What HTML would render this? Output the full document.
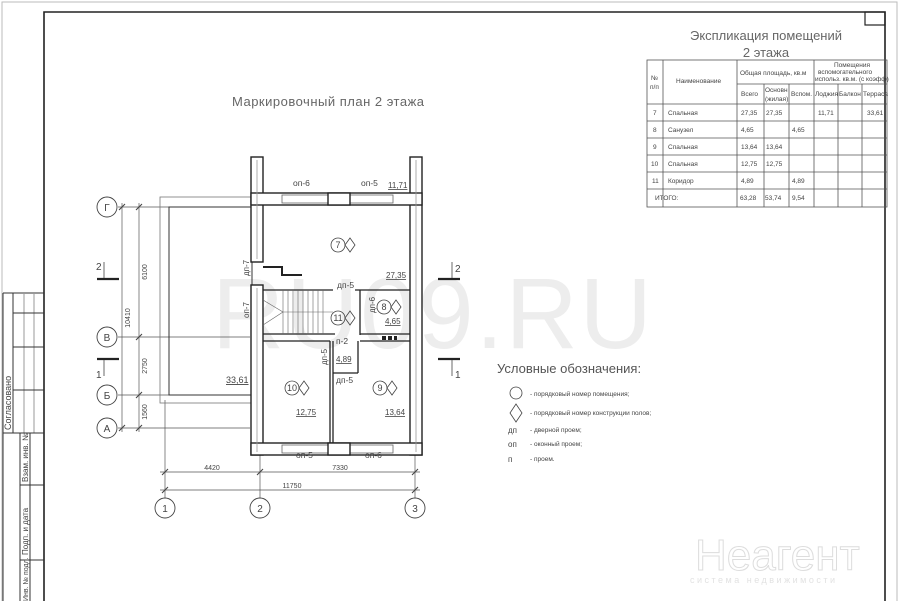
<!DOCTYPE html>
<html><head><meta charset="utf-8"><style>
html,body{margin:0;padding:0;background:#fff;}
svg{display:block;}
text{font-family:"Liberation Sans","DejaVu Sans",sans-serif;fill:#444;}
</style></head><body>
<svg width="900" height="601" viewBox="0 0 900 601" xmlns="http://www.w3.org/2000/svg">
<!-- frames -->
<rect x="2" y="2" width="895" height="610" fill="none" stroke="#bbb" stroke-width="1"/>
<path d="M44 601 V12 H885 V601" fill="none" stroke="#222" stroke-width="1.6"/>
<rect x="865" y="12" width="20" height="13" fill="none" stroke="#222" stroke-width="1.2"/>

<!-- left title block -->
<g stroke="#333" stroke-width="1" fill="none">
<line x1="3" y1="293" x2="44" y2="293"/>
<line x1="3" y1="293" x2="3" y2="601"/>
<line x1="13" y1="293" x2="13" y2="433"/>
<line x1="24" y1="293" x2="24" y2="433" stroke="#999"/>
<line x1="34" y1="293" x2="34" y2="433" stroke="#999"/>
<line x1="13" y1="313" x2="44" y2="313"/>
<line x1="13" y1="347" x2="44" y2="347"/>
<line x1="13" y1="390" x2="44" y2="390"/>
<line x1="3" y1="433" x2="44" y2="433"/>
<line x1="20" y1="433" x2="20" y2="601"/>
<line x1="30" y1="433" x2="30" y2="601"/>
<line x1="20" y1="485" x2="44" y2="485"/>
<line x1="20" y1="560" x2="44" y2="560"/>
</g>
<text transform="translate(11,430) rotate(-90)" font-size="9">Согласовано</text>
<text transform="translate(28,482) rotate(-90)" font-size="8">Взам. инв. №</text>
<text transform="translate(28,555) rotate(-90)" font-size="8">Подп. и дата</text>
<text transform="translate(28,601) rotate(-90)" font-size="7">Инв. № подл.</text>

<!-- watermark -->
<text x="212" y="348" font-size="100" fill="#ececec" style="fill:#ededed" letter-spacing="2">RU09.RU</text>

<!-- title -->
<text x="232" y="106" font-size="13" fill="#666" style="fill:#666" letter-spacing="0.5">Маркировочный план 2 этажа</text>

<!-- axes -->
<g stroke="#555" stroke-width="0.7" fill="none">
<line x1="118" y1="207" x2="250" y2="207"/>
<line x1="118" y1="337" x2="250" y2="337"/>
<line x1="118" y1="395" x2="250" y2="395"/>
<line x1="118" y1="428" x2="250" y2="428"/>
<line x1="122" y1="203" x2="122" y2="432"/>
<line x1="139" y1="203" x2="139" y2="432"/>
<line x1="165" y1="400" x2="165" y2="498"/>
<line x1="260" y1="455" x2="260" y2="498"/>
<line x1="415" y1="455" x2="415" y2="498"/>
<line x1="160" y1="472" x2="420" y2="472"/>
<line x1="160" y1="490" x2="420" y2="490"/>
</g>
<g stroke="#444" stroke-width="1.1">
<line x1="119" y1="210" x2="125" y2="204"/><line x1="119" y1="431" x2="125" y2="425"/>
<line x1="136" y1="210" x2="142" y2="204"/><line x1="136" y1="340" x2="142" y2="334"/>
<line x1="136" y1="398" x2="142" y2="392"/><line x1="136" y1="431" x2="142" y2="425"/>
<line x1="162" y1="475" x2="168" y2="469"/><line x1="257" y1="475" x2="263" y2="469"/><line x1="412" y1="475" x2="418" y2="469"/>
<line x1="162" y1="493" x2="168" y2="487"/><line x1="412" y1="493" x2="418" y2="487"/>
</g>
<g fill="#fff" stroke="#444" stroke-width="0.9">
<circle cx="107" cy="207" r="10"/><circle cx="107" cy="337" r="10"/>
<circle cx="107" cy="395" r="10"/><circle cx="107" cy="428" r="10"/>
<circle cx="165" cy="508" r="10"/><circle cx="260" cy="508" r="10"/><circle cx="415" cy="508" r="10"/>
</g>
<g font-size="10" text-anchor="middle">
<text x="107" y="211">Г</text><text x="107" y="341">В</text><text x="107" y="399">Б</text><text x="107" y="432">А</text>
<text x="165" y="512">1</text><text x="260" y="512">2</text><text x="415" y="512">3</text>
</g>
<g font-size="7" text-anchor="middle">
<text transform="translate(130,318) rotate(-90)">10410</text>
<text transform="translate(147,272) rotate(-90)">6100</text>
<text transform="translate(147,366) rotate(-90)">2750</text>
<text transform="translate(147,412) rotate(-90)">1560</text>
<text x="212" y="470">4420</text><text x="340" y="470">7330</text><text x="292" y="488">11750</text>
</g>
<!-- section marks -->
<g stroke="#222" stroke-width="2.2">
<line x1="97" y1="279" x2="119" y2="279"/><line x1="97" y1="359" x2="119" y2="359"/>
<line x1="438" y1="279" x2="460" y2="279"/><line x1="438" y1="359" x2="460" y2="359"/>
</g>
<g stroke="#444" stroke-width="0.8">
<line x1="104" y1="262" x2="104" y2="278"/><line x1="104" y1="360" x2="104" y2="376"/>
<line x1="452" y1="262" x2="452" y2="278"/><line x1="452" y1="360" x2="452" y2="376"/>
</g>
<g font-size="10"><text x="96" y="270">2</text><text x="96" y="378">1</text><text x="455" y="272">2</text><text x="455" y="378">1</text></g>

<!-- terrace -->
<rect x="160" y="197" width="92" height="206" fill="none" stroke="#777" stroke-width="0.8"/>
<rect x="169" y="207" width="83" height="188" fill="none" stroke="#333" stroke-width="1"/>
<text x="226" y="383" font-size="9" text-decoration="underline">33,61</text>

<!-- building walls -->
<g fill="#fff" stroke="#222" stroke-width="1.4">
<rect x="251" y="157" width="12" height="105"/>
<rect x="251" y="285" width="12" height="170"/>
<rect x="410" y="157" width="12" height="298"/>
<rect x="251" y="443" width="171" height="12"/>
<rect x="251" y="193" width="171" height="12"/>
</g>
<g stroke="#999" stroke-width="0.8" fill="none">
<line x1="257" y1="160" x2="257" y2="259"/><line x1="257" y1="288" x2="257" y2="452"/>
<line x1="416" y1="160" x2="416" y2="452"/>
</g>
<!-- windows top/bottom -->
<g fill="#fff" stroke="#666" stroke-width="0.8">
<rect x="282" y="195" width="46" height="8"/><rect x="350" y="195" width="43" height="8"/>
<rect x="282" y="445" width="46" height="8"/><rect x="350" y="445" width="43" height="8"/>
</g>
<g stroke="#222" stroke-width="1.4" fill="#fff">
<rect x="328" y="193" width="22" height="12"/><rect x="328" y="443" width="22" height="12"/>
</g>
<!-- inner walls -->
<g stroke="#222" stroke-width="1.3" fill="none">
<line x1="263" y1="290" x2="333" y2="290"/>
<line x1="355" y1="290" x2="410" y2="290"/>
<line x1="360" y1="290" x2="360" y2="335"/>
<line x1="263" y1="334" x2="335" y2="334"/>
<line x1="360" y1="334" x2="410" y2="334"/>
<line x1="263" y1="341" x2="330" y2="341"/>
<line x1="360" y1="341" x2="410" y2="341"/>
<line x1="330" y1="341" x2="330" y2="443"/>
<line x1="333" y1="341" x2="333" y2="443"/>
<line x1="333" y1="373" x2="358" y2="373"/>
<line x1="358" y1="341" x2="358" y2="373"/>
<path d="M263 267 H282 V275 H302" stroke-width="2"/>
</g>
<!-- stairs -->
<g stroke="#666" stroke-width="0.6">
<line x1="283" y1="290" x2="283" y2="334"/>
<line x1="283" y1="312" x2="333" y2="312"/>
<line x1="288" y1="290" x2="288" y2="334"/><line x1="293" y1="290" x2="293" y2="334"/>
<line x1="298" y1="290" x2="298" y2="334"/><line x1="303" y1="290" x2="303" y2="334"/>
<line x1="308" y1="290" x2="308" y2="334"/><line x1="313" y1="290" x2="313" y2="334"/>
<line x1="318" y1="290" x2="318" y2="334"/><line x1="323" y1="290" x2="323" y2="334"/>
<line x1="263" y1="300" x2="283" y2="312"/><line x1="263" y1="325" x2="283" y2="312"/>
</g>
<g fill="#222"><rect x="382" y="336" width="4" height="4"/><rect x="388" y="336" width="4" height="4"/><rect x="394" y="336" width="3" height="4"/></g>

<!-- room labels -->
<g font-size="8.5" fill="#444">
<text x="293" y="186">оп-6</text><text x="361" y="186">оп-5</text>
<text x="388" y="188" text-decoration="underline" font-size="8">11,71</text>
<text x="386" y="278" text-decoration="underline" font-size="8">27,35</text>
<text x="337" y="288">дп-5</text>
<text x="336" y="344">п-2</text>
<text x="336" y="362" text-decoration="underline" font-size="8">4,89</text>
<text x="336" y="383">дп-5</text>
<text x="385" y="324" text-decoration="underline" font-size="8">4,65</text>
<text x="296" y="415" text-decoration="underline" font-size="8">12,75</text>
<text x="385" y="415" text-decoration="underline" font-size="8">13,64</text>
<text x="296" y="458">оп-5</text><text x="365" y="458">оп-6</text>
<text transform="translate(249,276) rotate(-90)" font-size="8">дп-7</text>
<text transform="translate(249,318) rotate(-90)" font-size="8">оп-7</text>
<text transform="translate(375,313) rotate(-90)" font-size="8">дп-6</text>
<text transform="translate(327,365) rotate(-90)" font-size="8">дп-5</text>
</g>
<g fill="none" stroke="#444" stroke-width="0.8">
<circle cx="338" cy="245" r="7"/><path d="M350 238 L355 245 L350 252 L345 245 Z"/>
<circle cx="384" cy="307" r="7"/><path d="M396 300 L401 307 L396 314 L391 307 Z"/>
<circle cx="338" cy="318" r="7"/><path d="M350 311 L355 318 L350 325 L345 318 Z"/>
<circle cx="292" cy="388" r="7"/><path d="M304 381 L309 388 L304 395 L299 388 Z"/>
<circle cx="380" cy="388" r="7"/><path d="M392 381 L397 388 L392 395 L387 388 Z"/>
</g>
<g font-size="9" text-anchor="middle">
<text x="338" y="248">7</text><text x="384" y="310">8</text><text x="338" y="321">11</text>
<text x="292" y="391">10</text><text x="380" y="391">9</text>
</g>

<!-- explication table -->
<text x="766" y="40" font-size="13" text-anchor="middle" fill="#666" style="fill:#666">Экспликация помещений</text>
<text x="766" y="57" font-size="13" text-anchor="middle" fill="#666" style="fill:#666">2 этажа</text>
<g stroke="#555" stroke-width="0.8" fill="none">
<rect x="647" y="60" width="240" height="147"/>
<line x1="663" y1="60" x2="663" y2="207"/>
<line x1="737" y1="60" x2="737" y2="207"/>
<line x1="764" y1="84" x2="764" y2="207"/>
<line x1="789" y1="84" x2="789" y2="207"/>
<line x1="814" y1="60" x2="814" y2="207"/>
<line x1="838" y1="84" x2="838" y2="207"/>
<line x1="862" y1="84" x2="862" y2="207"/>
<line x1="737" y1="84" x2="887" y2="84"/>
<line x1="647" y1="104" x2="887" y2="104"/>
<line x1="647" y1="121" x2="887" y2="121"/>
<line x1="647" y1="138" x2="887" y2="138"/>
<line x1="647" y1="155" x2="887" y2="155"/>
<line x1="647" y1="172" x2="887" y2="172"/>
<line x1="647" y1="189" x2="887" y2="189"/>
</g>
<g font-size="6.5">
<text x="651" y="80">№</text><text x="650" y="89">п/п</text>
<text x="676" y="83">Наименование</text>
<text x="740" y="75">Общая площадь, кв.м</text>
<text x="834" y="67">Помещения</text><text x="818" y="74">вспомогательного</text><text x="815" y="81">использ. кв.м. (с коэфф)</text>
<text x="741" y="96">Всего</text><text x="791" y="96">Вспом.</text>
<text x="765" y="92">Основн</text><text x="765" y="101">(жилая)</text>
<text x="815" y="96">Лоджия</text><text x="839" y="96">Балкон</text><text x="863" y="96">Терраса</text>
<text x="653" y="115">7</text><text x="668" y="115">Спальная</text><text x="741" y="115">27,35</text><text x="766" y="115">27,35</text><text x="818" y="115">11,71</text><text x="867" y="115">33,61</text>
<text x="653" y="132">8</text><text x="668" y="132">Санузел</text><text x="741" y="132">4,65</text><text x="792" y="132">4,65</text>
<text x="653" y="149">9</text><text x="668" y="149">Спальная</text><text x="741" y="149">13,64</text><text x="766" y="149">13,64</text>
<text x="651" y="166">10</text><text x="668" y="166">Спальная</text><text x="741" y="166">12,75</text><text x="766" y="166">12,75</text>
<text x="652" y="183">11</text><text x="668" y="183">Коридор</text><text x="741" y="183">4,89</text><text x="792" y="183">4,89</text>
<text x="655" y="200">ИТОГО:</text><text x="740" y="200">63,28</text><text x="765" y="200">53,74</text><text x="792" y="200">9,54</text>
</g>

<!-- legend -->
<text x="497" y="373" font-size="13" fill="#555" style="fill:#555">Условные обозначения:</text>
<circle cx="516" cy="393" r="6" fill="none" stroke="#444" stroke-width="0.8"/>
<path d="M516 404 L522 413 L516 422 L510 413 Z" fill="none" stroke="#444" stroke-width="0.8"/>
<g font-size="6.5">
<text x="530" y="396">-  порядковый номер помещения;</text>
<text x="530" y="415">-  порядковый номер конструкции полов;</text>
<text x="508" y="433" font-size="8">дп</text><text x="530" y="432">-  дверной проем;</text>
<text x="508" y="447" font-size="8">оп</text><text x="530" y="446">-  оконный проем;</text>
<text x="508" y="462" font-size="8">п</text><text x="530" y="461">-  проем.</text>
</g>
<!-- watermark bottom -->
<text x="695" y="570" font-size="44" fill="none" stroke="#ddd" stroke-width="1" style="fill:#fff">Неагент</text>
<text x="690" y="583" font-size="9" letter-spacing="2.5" style="fill:#e2e2e2">система недвижимости</text>
</svg>
</body></html>
